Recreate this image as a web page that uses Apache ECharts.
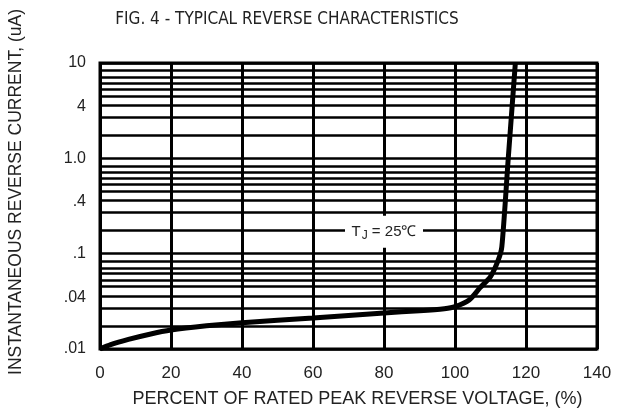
<!DOCTYPE html>
<html>
<head>
<meta charset="utf-8">
<title>Typical Reverse Characteristics</title>
<script src="https://cdn.jsdelivr.net/npm/echarts@6/dist/echarts.min.js"></script>
<style>
    html, body { margin: 0; padding: 0; background: #fff; }
    #chart { width: 625px; height: 414px; }
</style>
</head>
<body>
<div id="chart"></div>
<script>
// percent of rated peak reverse voltage
var voltPct = [0, 3, 8, 14, 20, 30, 40, 60, 80, 90, 97, 100, 104, 107, 110, 112.2, 113.2, 115, 117];
// instantaneous reverse current, uA
var currentUA = [0.010, 0.0111, 0.0126, 0.0143, 0.0158, 0.0175, 0.0189, 0.0212, 0.0239, 0.0252, 0.0265,
    0.0278, 0.0327, 0.0437, 0.0575, 0.086, 0.119, 1.0, 10];

// horizontal grid lines as drawn on the sheet
var gridLines = [
    0.01, 0.0175, 0.027, 0.036, 0.045, 0.053, 0.062, 0.071, 0.083,
    0.1, 0.175, 0.27, 0.36, 0.45, 0.53, 0.62, 0.71, 0.83,
    1, 1.75, 2.7, 3.6, 4.5, 5.3, 6.2, 7.1, 8.3,
    10
];
var yLabelValues = [0.01, 0.035, 0.1, 0.35, 1, 3.5, 10];
var yLabelTexts = ['.01', '.04', '.1', '.4', '1.0', '4', '10'];

var log = function (v) {
    return Math.log10(v);
};

var labelMap = {};
yLabelValues.forEach(function (v, i) {
    labelMap[log(v).toFixed(4)] = yLabelTexts[i];
});

var font = 'Liberation Sans, Arial, sans-serif';

var option = {
    animation: false,
    backgroundColor: '#fff',
    title: {
        text: 'FIG. 4 - TYPICAL REVERSE CHARACTERISTICS',
        left: 282,
        top: 6,
        textAlign: 'center',
        textStyle: {
            fontFamily: 'Liberation Sans Narrow, DejaVu Sans Condensed, sans-serif',
            fontSize: 17,
            fontWeight: 'normal',
            color: '#222'
        }
    },
    grid: {
        left: 100,
        right: 28,
        top: 63,
        bottom: 65,
        outerBoundsMode: 'none',
        show: true,
        borderColor: '#000',
        borderWidth: 3,
        backgroundColor: '#fff'
    },
    xAxis: {
        type: 'value',
        min: 0,
        max: 140,
        interval: 20,
        name: 'PERCENT OF RATED PEAK REVERSE VOLTAGE, (%)',
        nameLocation: 'middle',
        nameGap: 41,
        nameTextStyle: {fontFamily: font, fontSize: 18, color: '#222', padding: [0, 0, 0, 18]},
        axisLine: {show: false},
        axisTick: {show: false},
        axisLabel: {
            fontFamily: font,
            fontSize: 17,
            color: '#222',
            margin: 16,
            alignMinLabel: 'center',
            alignMaxLabel: 'center'
        },
        splitLine: {show: true, lineStyle: {color: '#000', width: 3}}
    },
    yAxis: {
        type: 'value',
        min: -2,
        max: 1,
        name: 'INSTANTANEOUS REVERSE CURRENT, (uA)',
        nameLocation: 'middle',
        nameGap: 75,
        nameTextStyle: {fontFamily: font, fontSize: 17.5, color: '#222', padding: [0, 0, 0, 28]},
        axisLine: {show: false},
        axisTick: {show: false, customValues: gridLines.map(log)},
        axisLabel: {
            customValues: yLabelValues.map(log),
            fontFamily: font,
            fontSize: 16,
            color: '#222',
            margin: 14,
            formatter: function (v) {
                return labelMap[v.toFixed(4)] || '';
            }
        },
        splitLine: {show: true, lineStyle: {color: '#000', width: 2.5}}
    },
    series: [{
        type: 'line',
        data: voltPct.map(function (x, i) {
            return [x, log(currentUA[i])];
        }),
        smooth: 0.25,
        symbol: 'none',
        lineStyle: {color: '#000', width: 5},
        z: 5,
        markPoint: {
            symbol: 'rect',
            symbolSize: [78, 32],
            itemStyle: {color: '#fff'},
            label: {
                show: true,
                position: 'inside',
                formatter: '{a|T}{b|J}{a| = 25\u2103}',
                rich: {
                    a: {fontFamily: font, fontSize: 15, color: '#222'},
                    b: {fontFamily: font, fontSize: 12, color: '#222', padding: [7, 0, 0, 1]}
                }
            },
            data: [{coord: [80, log(0.17)]}]
        }
    }]
};

var chart = echarts.init(document.getElementById('chart'));
chart.setOption(option);
</script>
</body>
</html>
